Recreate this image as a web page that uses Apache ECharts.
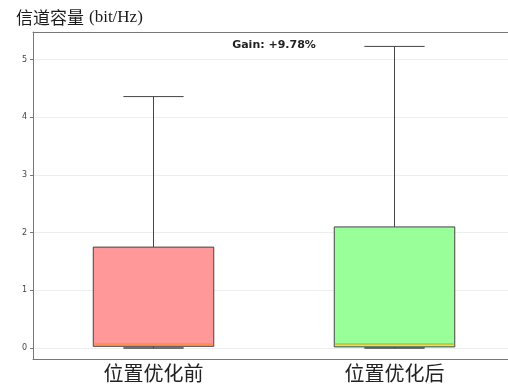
<!DOCTYPE html>
<html>
<head>
<meta charset="utf-8">
<script src="https://cdn.jsdelivr.net/npm/echarts@6/dist/echarts.min.js"></script>
<style>
  html, body { margin: 0; padding: 0; background: #fff; }
  #chart { width: 508px; height: 391px; }
</style>
</head>
<body>
<div id="chart"></div>
<script>
// Channel capacity before / after position optimisation
const categories = ['位置优化前', '位置优化后'];
// [min, Q1, median, Q3, max]
const boxStats = [
  [0, 0.03, 0.07, 1.75, 4.36],
  [0, 0.02, 0.07, 2.10, 5.23]
];
const boxColors = ['#ff9999', '#99ff99'];
const medianColors = ['#ff8c3a', '#e0b020'];
const yTicks = [0, 1, 2, 3, 4, 5];
const gainText = 'Gain: +9.78%';

const chart = echarts.init(document.getElementById('chart'));

// Box-and-whisker drawn per category: box at 50% of band, caps at half box width
function renderBox(params, api) {
  const i = api.value(0);
  const vMin = api.coord([i, api.value(1)]);
  const vQ1 = api.coord([i, api.value(2)]);
  const vMed = api.coord([i, api.value(3)]);
  const vQ3 = api.coord([i, api.value(4)]);
  const vMax = api.coord([i, api.value(5)]);
  const cx = vMin[0];
  const bw = api.size([1, 0])[0] * 0.5;
  const cw = bw * 0.5;
  const edge = '#444';
  return {
    type: 'group',
    children: [
      { type: 'line', shape: { x1: cx, y1: vQ3[1], x2: cx, y2: vMax[1] },
        style: { stroke: edge, lineWidth: 1 } },
      { type: 'line', shape: { x1: cx, y1: vQ1[1], x2: cx, y2: vMin[1] },
        style: { stroke: edge, lineWidth: 1 } },
      { type: 'line', shape: { x1: cx - cw / 2, y1: vMax[1], x2: cx + cw / 2, y2: vMax[1] },
        style: { stroke: edge, lineWidth: 1 } },
      { type: 'rect', shape: { x: cx - bw / 2, y: vQ3[1], width: bw, height: vQ1[1] - vQ3[1] },
        style: { fill: boxColors[i], stroke: edge, lineWidth: 1 } },
      { type: 'line', shape: { x1: cx - bw / 2 + 0.5, y1: vMed[1], x2: cx + bw / 2 - 0.5, y2: vMed[1] },
        style: { stroke: medianColors[i], lineWidth: 1.5 } },
      { type: 'line', shape: { x1: cx - cw / 2, y1: vMin[1], x2: cx + cw / 2, y2: vMin[1] },
        style: { stroke: edge, lineWidth: 1.5 } }
    ]
  };
}

chart.setOption({
  animation: false,
  title: {
    text: '{cn|信道容量} {en|(bit/Hz)}',
    left: 11,
    top: 4,
    textStyle: {
      fontWeight: 'normal',
      rich: {
        cn: { fontFamily: 'Noto Sans CJK SC', fontSize: 17, fontWeight: 'normal', color: '#1a1a1a' },
        en: { fontFamily: 'Liberation Serif', fontSize: 17, fontWeight: 'normal', color: '#1a1a1a' }
      }
    }
  },
  graphic: [{
    type: 'text',
    x: 274,
    y: 45,
    style: {
      text: gainText,
      align: 'center',
      verticalAlign: 'middle',
      fontFamily: 'DejaVu Sans',
      fontSize: 11,
      fontWeight: 'bold',
      fill: '#222'
    },
    z: 10
  }],
  grid: {
    left: 33, top: 32, width: 482, height: 327,
    outerBoundsMode: 'none',
    containLabel: false,
    show: false
  },
  xAxis: [{
    type: 'category',
    data: categories,
    axisLine: { onZero: false, lineStyle: { color: '#777' } },
    axisTick: { show: false },
    axisLabel: {
      fontFamily: 'Noto Sans CJK SC', fontSize: 20, color: '#222', margin: 4
    }
  }, {
    // top frame line
    type: 'category',
    position: 'top',
    data: categories,
    axisLine: { show: true, onZero: false, lineStyle: { color: '#777' } },
    axisTick: { show: false },
    axisLabel: { show: false },
    splitLine: { show: false }
  }],
  yAxis: {
    type: 'value',
    min: -0.19,
    max: 5.48,
    axisLine: { show: true, onZero: false, lineStyle: { color: '#777' } },
    axisTick: { show: true, length: 3, customValues: yTicks, lineStyle: { color: '#777' } },
    axisLabel: {
      customValues: yTicks, fontFamily: 'DejaVu Sans', fontSize: 8, color: '#444', margin: 6
    },
    splitLine: { show: true, lineStyle: { color: '#eeeeee', width: 1 } }
  },
  series: [{
    type: 'custom',
    renderItem: renderBox,
    encode: { x: 0, y: [1, 2, 3, 4, 5] },
    data: boxStats.map((s, i) => [i].concat(s))
  }]
});
</script>
</body>
</html>
